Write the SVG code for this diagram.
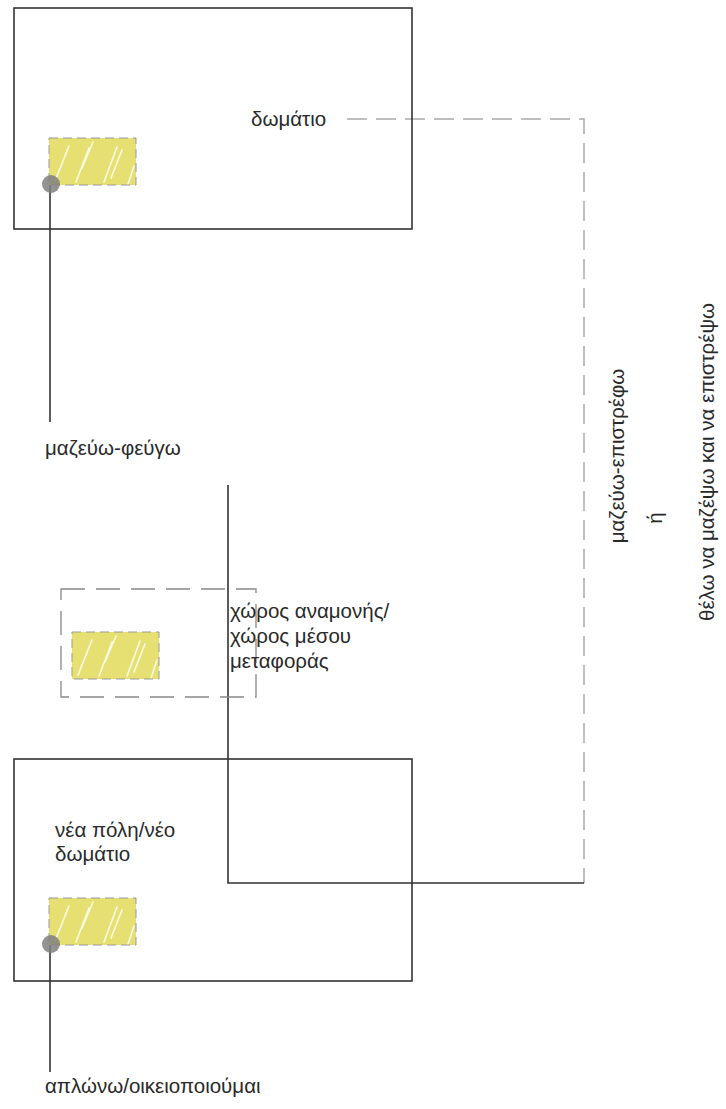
<svg xmlns="http://www.w3.org/2000/svg" width="726" height="1109" viewBox="0 0 726 1109">
<style>
.box{fill:none;stroke:#333;stroke-width:1.6}
.line{fill:none;stroke:#333;stroke-width:1.6}
.dash{fill:none;stroke:#aaa;stroke-width:1.5;stroke-dasharray:20 9}
.wdash{fill:none;stroke:#888;stroke-width:1.3;stroke-dasharray:24 11}
.ydash{fill:none;stroke:#999;stroke-width:1;stroke-dasharray:9 5}
.yel{fill:#e6e072}
.streak{fill:none;stroke:#fff;stroke-width:1.6;stroke-linecap:round;opacity:0.8}
.dot{fill:#808080;opacity:0.85}
text{font-family:"Liberation Sans",Arial,sans-serif;font-size:20.5px;fill:#2a2a2a}
</style>
<defs>
<g id="hatch">
<rect class="yel" x="0" y="0" width="87" height="47"/>
<path class="streak" d="M6 43 L20 8 M27 44 L40 10 M33 30 L44 4 M55 44 L68 9 M62 40 L73 12 M79 46 L85 28"/>
<rect class="ydash" x="0" y="0" width="87" height="47"/>
</g>
</defs>
<g id="connectors">
<path class="dash" d="M347 119 H584 V883"/>
<path class="line" d="M228 485 V883 H584"/>
<path class="line" d="M50 184 V422"/>
<path class="line" d="M50 944 V1072"/>
</g>
<g id="room">
<rect class="box" x="14" y="8" width="398" height="221"/>
<text x="251" y="126">δωμάτιο</text>
<use href="#hatch" x="49" y="138"/>
<circle class="dot" cx="51" cy="184" r="9"/>
</g>
<g id="leave">
<text x="45" y="455">μαζεύω-φεύγω</text>
</g>
<g id="waiting">
<rect class="wdash" x="61" y="589" width="195" height="108"/>
<use href="#hatch" x="72" y="632"/>
<text x="230" y="618">χώρος αναμονής/</text>
<text x="230" y="643">χώρος μέσου</text>
<text x="230" y="668">μεταφοράς</text>
</g>
<g id="newroom">
<rect class="box" x="14" y="759" width="398" height="222"/>
<text x="55" y="837">νέα πόλη/νέο</text>
<text x="55" y="861">δωμάτιο</text>
<use href="#hatch" x="49" y="898"/>
<circle class="dot" cx="51" cy="944" r="9"/>
</g>
<g id="settle">
<text x="45" y="1093">απλώνω/οικειοποιούμαι</text>
</g>
<g id="return">
<text transform="translate(624 456) rotate(-90)" text-anchor="middle">μαζεύω-επιστρέφω</text>
<text transform="translate(662 518) rotate(-90)" text-anchor="middle">ή</text>
<text transform="translate(714 462) rotate(-90)" text-anchor="middle">θέλω να μαζέψω και να επιστρέψω</text>
</g>
</svg>
